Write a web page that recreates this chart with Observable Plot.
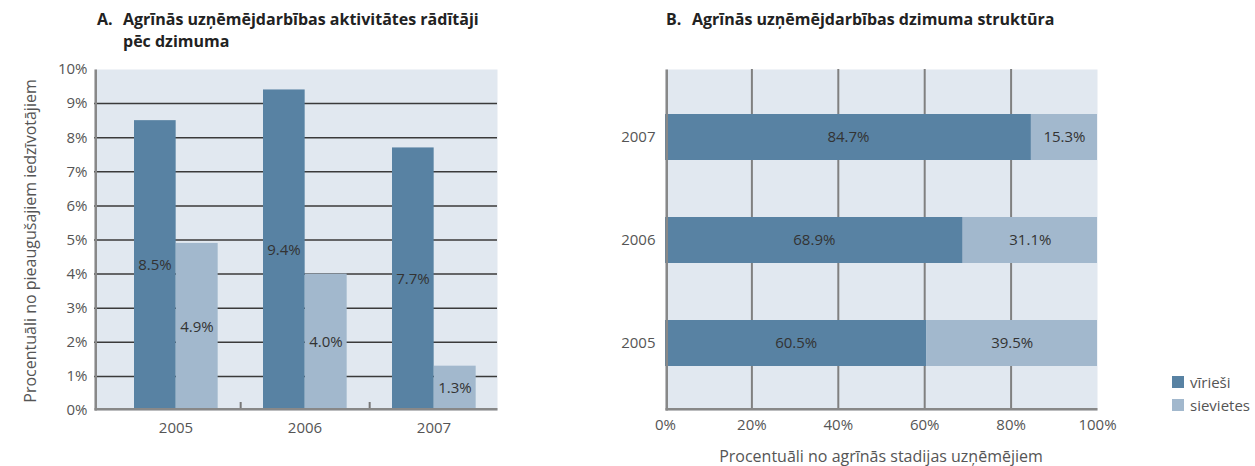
<!DOCTYPE html>
<html><head><meta charset="utf-8">
<script src="https://cdn.jsdelivr.net/npm/d3@7"></script>
<script src="https://cdn.jsdelivr.net/npm/@observablehq/plot@0.6"></script>
<style>
body{margin:0;background:#fff;font-family:"Open Sans","Noto Sans",sans-serif;}
#wrap{position:relative;width:1255px;height:466px;overflow:hidden;}
.abs{position:absolute;}
.title{font-weight:bold;font-size:16px;color:#222;line-height:22px;}
.leg{font-size:15px;color:#555;display:flex;align-items:center;height:23px;}
.sw{width:12px;height:12px;margin-right:6px;display:inline-block;}
.ytitle{font-size:16px;color:#555;white-space:nowrap;transform:translate(-50%,-50%) rotate(-90deg);}
.xtitle{font-size:16px;color:#555;white-space:nowrap;transform:translate(-50%,-50%);}
</style></head><body>
<div id="wrap">
  <div class="abs title" style="left:97px;top:8px;display:flex;"><span style="width:26px">A.</span><span>Agrīnās uzņēmējdarbības aktivitātes rādītāji<br>pēc dzimuma</span></div>
  <div class="abs title" style="left:666px;top:8px;display:flex;"><span style="width:26px">B.</span><span>Agrīnās uzņēmējdarbības dzimuma struktūra</span></div>
  <div id="A" class="abs" style="left:0;top:0"></div>
  <div id="B" class="abs" style="left:560px;top:0"></div>
  <div class="abs ytitle" style="left:30px;top:241px" id="ytA"></div>
  <div class="abs xtitle" style="left:881px;top:456px" id="xtB"></div>
  <div class="abs" style="left:1172px;top:370px">
    <div class="leg"><span class="sw" id="sw0"></span><span id="l0"></span></div>
    <div class="leg"><span class="sw" id="sw1"></span><span id="l1"></span></div>
  </div>
</div>
<script>
const years = ["2005", "2006", "2007"];
const sexes = ["vīrieši", "sievietes"];
const colors = ["#5882a3", "#a2b8cd"];
// A: activity rate by sex (share of adult population)
const rateMen = [0.085, 0.094, 0.077];
const rateWomen = [0.049, 0.040, 0.013];
const rateMenLabels = ["8.5%", "9.4%", "7.7%"];
const rateWomenLabels = ["4.9%", "4.0%", "1.3%"];
// B: gender structure of early-stage entrepreneurs
const shareMen = [0.605, 0.689, 0.847];
const shareWomen = [0.395, 0.311, 0.153];

const yTicksA = d3.range(0, 11).map(i => i / 100);
const xTicksB = [0, 0.2, 0.4, 0.6, 0.8, 1];
const yTitleA = "Procentuāli no pieaugušajiem iedzīvotājiem";
const xTitleB = "Procentuāli no agrīnās stadijas uzņēmējiem";

const dataA = years.flatMap((y, i) => [
  {year: y, sex: sexes[0], value: rateMen[i], label: rateMenLabels[i]},
  {year: y, sex: sexes[1], value: rateWomen[i], label: rateWomenLabels[i]}
]);
const dataB = years.flatMap((y, i) => [
  {year: y, sex: sexes[0], value: shareMen[i]},
  {year: y, sex: sexes[1], value: shareWomen[i]}
]);

const bg = "#e1e8f0";
const axisGray = "#888";
const font = '"Open Sans","Noto Sans",sans-serif';

const W_A = 520, H = 466;
const mLA = 94, mRA = W_A - 497, mT = 69, mB = H - 410;
const plotH = H - mT - mB;
const plotWA = W_A - mLA - mRA;
const bandStart = 110, bandEnd = 498;
const bw = (bandEnd - bandStart) / 3;

const plotA = Plot.plot({
  width: W_A, height: H,
  marginLeft: mLA, marginRight: mRA, marginTop: mT, marginBottom: mB,
  style: {fontFamily: font, fontSize: "15px", background: "transparent", overflow: "visible"},
  x: {type: "band", domain: years, range: [bandStart, bandEnd], padding: 0, label: null},
  y: {domain: [0, 0.10], label: null},
  color: {domain: sexes, range: colors},
  marks: [
    Plot.frame({fill: bg, stroke: null}),
    Plot.gridY(yTicksA.slice(1, -1), {stroke: "#3a3a3a", strokeOpacity: 1, strokeWidth: 1.5}),
    Plot.barY(dataA.filter(d => d.sex === sexes[0]), {x: "year", y: "value", fill: "sex", insetLeft: 23, insetRight: bw - 65}),
    Plot.barY(dataA.filter(d => d.sex === sexes[1]), {x: "year", y: "value", fill: "sex", insetLeft: 65, insetRight: bw - 107}),
    Plot.text(dataA.filter(d => d.sex === sexes[0]), {x: "year", y: d => d.value / 2, text: "label", dx: -21, fill: "#333", fontSize: 15}),
    Plot.text(dataA.filter(d => d.sex === sexes[1]), {x: "year", y: d => d.value / 2, text: "label", dx: 21, fill: "#333", fontSize: 15}),
    Plot.ruleX(years.slice(0, 2), {x: d => d, dx: bw / 2, stroke: "#777", strokeWidth: 2, insetTop: plotH - 8}),
    Plot.frame({fill: axisGray, stroke: null, insetTop: plotH - 2.5}),
    Plot.frame({fill: axisGray, stroke: null, insetRight: plotWA - 2.5}),
    Plot.axisY(yTicksA, {tickFormat: d3.format(".0%"), tickSize: 0, tickPadding: 7, fill: "#555", fontSize: 15, label: null}),
    Plot.axisX({tickSize: 0, tickPadding: 12, fill: "#555", fontSize: 15, label: null})
  ]
});
document.getElementById("A").appendChild(plotA);

const W_B = 580, offB = 560;
const mLB = 665 - offB, mRB = W_B - (1097 - offB);
const plotWB = W_B - mLB - mRB;
const plotB = Plot.plot({
  width: W_B, height: H,
  marginLeft: mLB, marginRight: mRB, marginTop: mT, marginBottom: mB,
  style: {fontFamily: font, fontSize: "15px", background: "transparent", overflow: "visible"},
  x: {domain: [0, 1], label: null},
  y: {domain: [...years].reverse(), paddingInner: 0.556, paddingOuter: 0.42, label: null},
  color: {domain: sexes, range: colors},
  marks: [
    Plot.frame({fill: bg, stroke: null}),
    Plot.gridX(xTicksB.slice(1, -1), {stroke: "#808080", strokeOpacity: 1, strokeWidth: 2}),
    Plot.barX(dataB, Plot.stackX({x: "value", y: "year", fill: "sex", order: sexes})),
    Plot.text(dataB, Plot.stackX({x: "value", y: "year", z: "sex", order: sexes, text: d => d3.format(".1%")(d.value), fill: "#333", fontSize: 15})),
    Plot.frame({fill: axisGray, stroke: null, insetTop: plotH - 2.5}),
    Plot.frame({fill: axisGray, stroke: null, insetRight: plotWB - 2.5}),
    Plot.axisX(xTicksB, {tickFormat: d3.format(".0%"), tickSize: 0, tickPadding: 9, fill: "#555", fontSize: 15, label: null}),
    Plot.axisY({tickSize: 0, tickPadding: 10, fill: "#555", fontSize: 15, label: null})
  ]
});
document.getElementById("B").appendChild(plotB);

document.getElementById("ytA").textContent = yTitleA;
document.getElementById("xtB").textContent = xTitleB;
document.getElementById("sw0").style.background = colors[0];
document.getElementById("sw1").style.background = colors[1];
document.getElementById("l0").textContent = sexes[0];
document.getElementById("l1").textContent = sexes[1];
</script>
</body></html>
